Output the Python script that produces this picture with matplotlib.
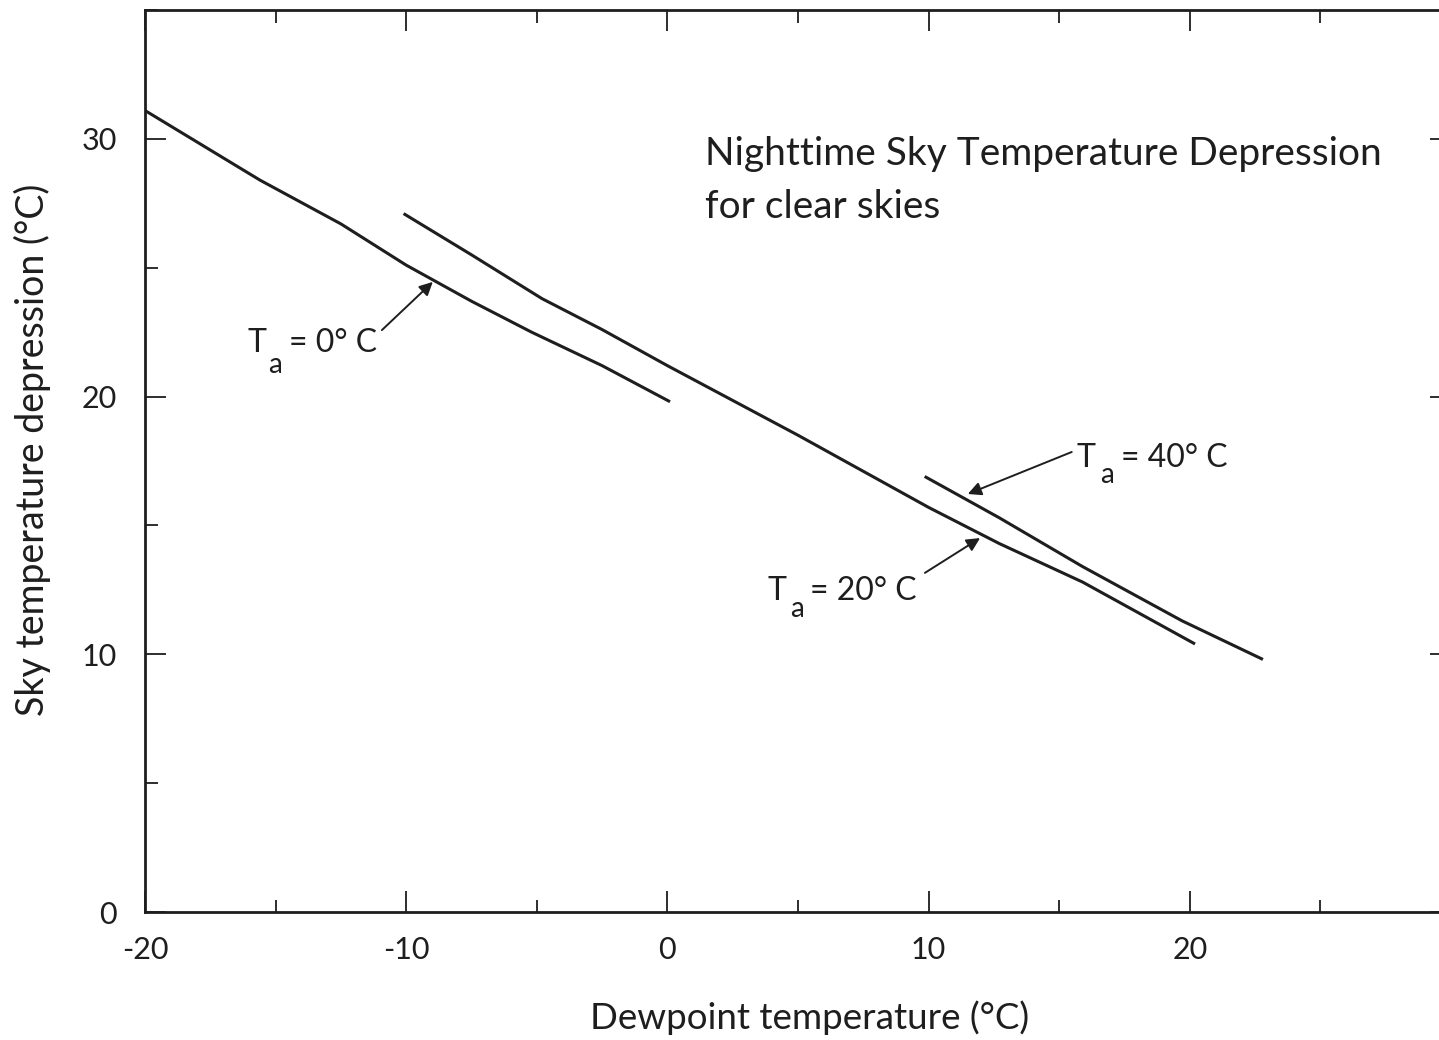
import matplotlib
matplotlib.use("Agg")
import matplotlib.pyplot as plt
from matplotlib.ticker import MultipleLocator

plt.rcParams['font.family'] = ['Lato', 'DejaVu Sans']

# Curves: dewpoint (C) vs sky temperature depression (C)
dew_ta0 = [-20, -15.6, -12.5, -10, -7.5, -5.2, -2.5, 0.1]
dep_ta0 = [31.1, 28.4, 26.7, 25.1, 23.7, 22.5, 21.2, 19.8]

dew_ta20 = [-10.1, -7.5, -4.8, -2.5, 0, 5, 10, 12.7, 15.9, 20.2]
dep_ta20 = [27.1, 25.5, 23.8, 22.6, 21.2, 18.5, 15.7, 14.3, 12.8, 10.4]

dew_ta40 = [9.85, 12.7, 15.9, 19.7, 22.8]
dep_ta40 = [16.9, 15.3, 13.4, 11.3, 9.8]

x_ticks = [-20, -10, 0, 10, 20]
x_labels = ['-20', '-10', '0', '10', '20']
y_ticks = [0, 10, 20, 30]
y_labels = ['0', '10', '20', '30']

INK = '#1e1e1e'

fig = plt.figure(figsize=(14.39, 10.40), dpi=100)
ax = fig.add_axes([145 / 1439, 128 / 1040, (1451 - 145) / 1439, (912 - 10) / 1040])

for xs, ys in [(dew_ta0, dep_ta0), (dew_ta20, dep_ta20), (dew_ta40, dep_ta40)]:
    ax.plot(xs, ys, color=INK, lw=2.2, solid_capstyle='butt', solid_joinstyle='round')

ax.set_xlim(-20, 30)
ax.set_ylim(0, 35)
ax.set_xticks(x_ticks)
ax.set_xticklabels(x_labels)
ax.set_yticks(y_ticks)
ax.set_yticklabels(y_labels)
ax.xaxis.set_minor_locator(MultipleLocator(5))
ax.yaxis.set_minor_locator(MultipleLocator(5))
ax.tick_params(which='both', direction='in', top=True, right=True,
               width=1.3, color=INK, labelsize=22, labelcolor=INK)
ax.tick_params(which='major', length=15)
ax.tick_params(which='minor', length=9)
ax.tick_params(axis='x', pad=17)
ax.tick_params(axis='y', pad=20)
for sp in ax.spines.values():
    sp.set_linewidth(2.0)
    sp.set_color(INK)

fig.text(810 / 1439, 1 - 1018 / 1040, 'Dewpoint temperature (\u00b0C)',
         ha='center', va='center', fontsize=26.5, color=INK)
fig.text(32 / 1439, 1 - 450 / 1040, 'Sky temperature depression (\u00b0C)',
         ha='center', va='center', rotation=90, fontsize=27, color=INK)

fig.text(705 / 1439, 1 - 165 / 1040, 'Nighttime Sky Temperature Depression',
         ha='left', va='baseline', fontsize=28, color=INK)
fig.text(705 / 1439, 1 - 218 / 1040, 'for clear skies',
         ha='left', va='baseline', fontsize=28, color=INK)


def ta_label(t_xy, a_xy, rest_x, rest, tail, head):
    ax.text(t_xy[0], t_xy[1], 'T', ha='left', va='baseline', fontsize=23, color=INK)
    ax.text(a_xy[0], a_xy[1], 'a', ha='left', va='baseline', fontsize=20, color=INK)
    ax.text(rest_x, t_xy[1], rest, ha='left', va='baseline', fontsize=23, color=INK)
    ax.annotate('', xy=head, xytext=tail,
                arrowprops=dict(arrowstyle='-|>', color=INK, lw=1.4,
                                mutation_scale=20, shrinkA=0, shrinkB=0))


ta_label((-16.06, 21.73), (-15.3, 20.9), -14.49, '= 0\u00b0 C',
         (-10.93, 22.58), (-8.98, 24.45))
ta_label((15.67, 17.27), (16.55, 16.65), 17.36, '= 40\u00b0 C',
         (15.48, 17.85), (11.5, 16.22))
ta_label((3.85, 12.11), (4.69, 11.45), 5.45, '= 20\u00b0 C',
         (9.86, 13.16), (11.97, 14.51))

fig.savefig('out.png', dpi=100)
